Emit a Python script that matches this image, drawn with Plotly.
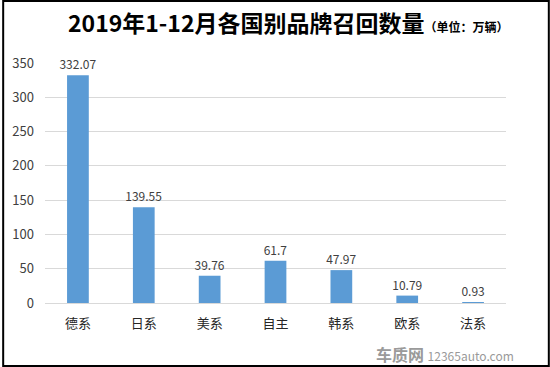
import plotly.graph_objects as go

categories = ["德系", "日系", "美系", "自主", "韩系", "欧系", "法系"]
values = [332.07, 139.55, 39.76, 61.7, 47.97, 10.79, 0.93]
value_labels = ["332.07", "139.55", "39.76", "61.7", "47.97", "10.79", "0.93"]
y_ticks = [0, 50, 100, 150, 200, 250, 300, 350]

W, H = 550, 367
L, R, T, B = 43, 44, 63, 64
pw, ph = W - L - R, H - T - B

def px_x(x):
    return (x - L) / pw

def px_y(y):
    return (H - B - y) / ph

font_family = "Noto Sans CJK SC, Noto Sans, sans-serif"

fig = go.Figure(go.Bar(
    x=categories, y=values, text=value_labels, textposition="outside",
    textfont=dict(size=12, color="#404040", family=font_family),
    marker=dict(color="#5b9bd5", line=dict(width=0)),
    width=0.33, cliponaxis=False, constraintext="none",
))

fig.update_layout(
    width=W, height=H, margin=dict(l=L, r=R, t=T, b=B),
    paper_bgcolor="white", plot_bgcolor="white", showlegend=False,
    font=dict(family=font_family, color="#404040"),
    xaxis=dict(showgrid=False, showline=True, linecolor="#d9d9d9", linewidth=1,
               tickfont=dict(size=13, color="#262626"), ticks="", ticklabelstandoff=8),
    yaxis=dict(range=[0, 350], tickvals=y_ticks, showgrid=True, gridcolor="#d9d9d9",
               gridwidth=1, zeroline=False, tickfont=dict(size=13, color="#404040"),
               ticks="", ticklabelstandoff=10, showline=False),
)

fig.add_annotation(
    xref="paper", yref="paper", x=px_x(288), y=px_y(22), xanchor="center", yanchor="middle",
    showarrow=False,
    text="<b>2019年1-12月各国别品牌召回数量</b><span style='font-size:12px'><b>（单位：万辆）</b></span>",
    font=dict(size=23, color="#000000", family=font_family),
)

fig.add_annotation(
    xref="paper", yref="paper", x=px_x(516), y=px_y(354), xanchor="right", yanchor="middle",
    showarrow=False,
    text="<b>车质网</b> <span style='font-size:12px'>12365auto.com</span>",
    font=dict(size=16, color="#9a9a9a", family=font_family),
)

fig.add_shape(type="rect", xref="paper", yref="paper",
              x0=px_x(1), x1=px_x(549), y0=px_y(366), y1=px_y(1),
              line=dict(color="#000000", width=2), fillcolor="rgba(0,0,0,0)")

fig.write_html("out.html", config={"displayModeBar": False},
               post_script="document.body.style.margin='0';document.body.style.overflow='hidden';")
